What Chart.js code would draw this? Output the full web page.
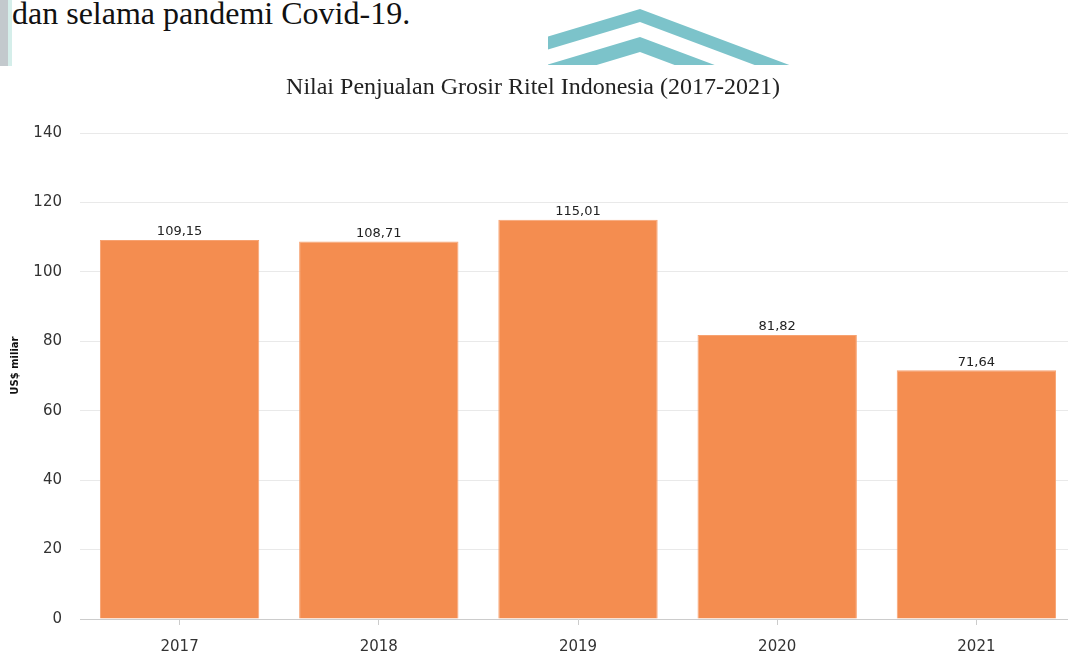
<!DOCTYPE html>
<html>
<head>
<meta charset="utf-8">
<script src="https://cdn.jsdelivr.net/npm/chart.js@4.4.1/dist/chart.umd.min.js"></script>
<style>
  html, body { margin: 0; padding: 0; background: #fff; width: 1068px; height: 654px; overflow: hidden; position: relative; }
  #doc { position: absolute; left: 12px; top: -5px; font-family: "Liberation Serif", "Times New Roman", serif; font-size: 32px; color: #111; white-space: nowrap; }
  #edge1 { position: absolute; left: 0; top: 0; width: 8px; height: 66px; background: #c3c9cd; }
  #edge2 { position: absolute; left: 8px; top: 0; width: 4px; height: 66px; background: #d5eeea; }
  #wm { position: absolute; left: 0; top: 0; }
  #c { position: absolute; left: -10px; top: 60px; }
</style>
</head>
<body>
<div id="edge1"></div><div id="edge2"></div>
<svg id="wm" width="1068" height="66">
  <defs><clipPath id="cp"><rect x="548" y="0" width="260" height="65"/></clipPath></defs>
  <g clip-path="url(#cp)" fill="#7cc3ca">
    <polygon points="520,45 640,9 840,84 840,97 640,22 520,58"/>
    <polygon points="520,73 640,37 840,112 840,127 640,52 520,88"/>
  </g>
</svg>
<div id="doc">dan selama pandemi Covid-19.</div>
<canvas id="c" width="1086" height="594"></canvas>
<script>
const titleText = 'Nilai Penjualan Grosir Ritel Indonesia (2017-2021)';
const yAxisTitle = 'US$ miliar';
const categories = ['2017', '2018', '2019', '2020', '2021'];
const salesValues = [109.15, 108.71, 115.01, 81.82, 71.64];
const yTicks = [0, 20, 40, 60, 80, 100, 120, 140];

const barLabels = {
  id: 'barLabels',
  afterDatasetsDraw(chart) {
    const ctx = chart.ctx;
    const meta = chart.getDatasetMeta(0);
    ctx.save();
    ctx.font = '13px "DejaVu Sans", Verdana, sans-serif';
    ctx.fillStyle = '#222';
    ctx.textAlign = 'center';
    ctx.textBaseline = 'middle';
    meta.data.forEach((bar, i) => {
      const v = chart.data.datasets[0].data[i];
      ctx.fillText(v.toFixed(2).replace('.', ','), bar.x, bar.y - 8);
    });
    ctx.restore();
  }
};

new Chart(document.getElementById('c'), {
  type: 'bar',
  data: {
    labels: categories,
    datasets: [{
      data: salesValues,
      backgroundColor: '#f48d50',
      borderColor: '#f7a271',
      borderWidth: 1,
      categoryPercentage: 1.0,
      barPercentage: 0.8
    }]
  },
  options: {
    responsive: false,
    animation: false,
    layout: { padding: { left: 0, right: 0, top: 0, bottom: 0 } },
    plugins: {
      legend: { display: false },
      tooltip: { enabled: false },
      title: {
        display: true,
        text: titleText,
        color: '#222',
        font: { family: '"Liberation Serif", "Times New Roman", serif', size: 24, weight: 'normal' },
        padding: { top: 13.6, bottom: 30.6 }
      }
    },
    scales: {
      x: {
        grid: { display: true, offset: false, drawOnChartArea: false, drawTicks: true, tickLength: 6, color: '#cccccc' },
        border: { display: true, color: '#cccccc' },
        ticks: { color: '#333', font: { family: '"DejaVu Sans", Verdana, sans-serif', size: 15 }, padding: 13 },
        afterFit(scale) { scale.height = 35; }
      },
      y: {
        min: 0,
        max: 140,
        afterBuildTicks(scale) { scale.ticks = yTicks.map(v => ({ value: v })); },
        grid: { color: '#e9e9e9', drawTicks: false },
        border: { display: false },
        ticks: { color: '#333', font: { family: '"DejaVu Sans", Verdana, sans-serif', size: 15 }, padding: 18 },
        title: {
          display: true,
          text: '\u00a0\u00a0\u00a0\u00a0\u00a0\u00a0' + yAxisTitle,
          color: '#111',
          font: { family: '"DejaVu Sans", Verdana, sans-serif', size: 10, weight: 'bold' },
          padding: { top: 19, bottom: 0 }
        },
        afterFit(scale) { scale.width = 90; }
      }
    }
  },
  plugins: [barLabels]
});
</script>
</body>
</html>
